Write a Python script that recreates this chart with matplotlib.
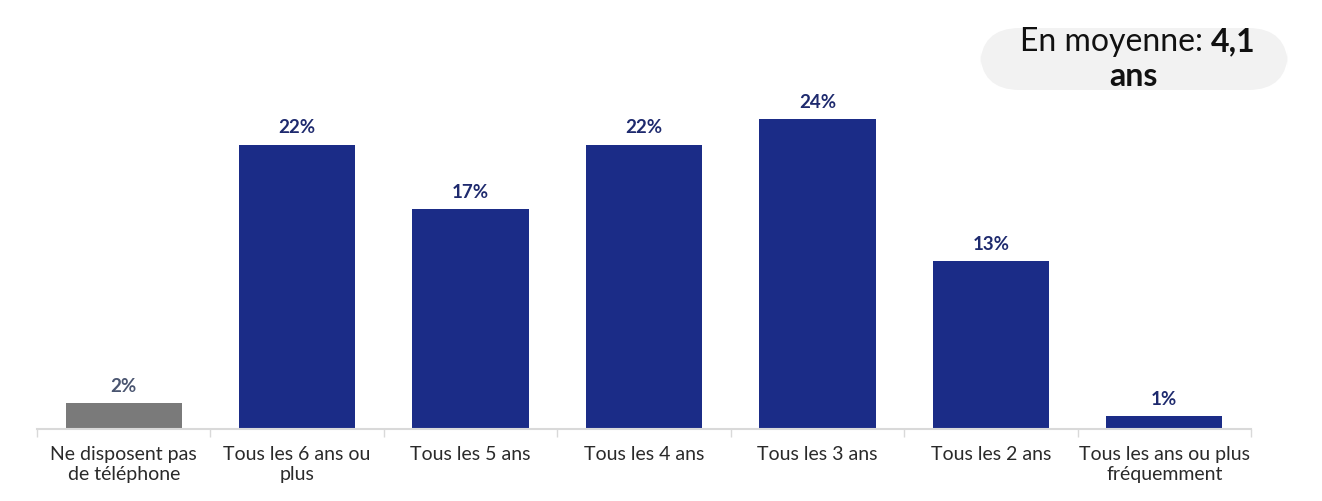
import matplotlib.pyplot as plt
from matplotlib.patches import FancyBboxPatch

categories = ["Ne disposent pas\nde téléphone", "Tous les 6 ans ou\nplus", "Tous les 5 ans",
              "Tous les 4 ans", "Tous les 3 ans", "Tous les 2 ans",
              "Tous les ans ou plus\nfréquemment"]
values = [2, 22, 17, 22, 24, 13, 1]
labels = ["2%", "22%", "17%", "22%", "24%", "13%", "1%"]

navy = "#1b2c87"
grey = "#7a7a7a"
bar_colors = [grey] + [navy] * 6
label_colors = ["#4a5570"] + ["#1e2a6e"] * 6

plt.rcParams['font.family'] = ['Lato', 'DejaVu Sans']

fig = plt.figure(figsize=(13.22, 5.01), dpi=100)
ax = fig.add_axes([0.028, 0.1437, 0.9183, 0.6567])

x = range(len(categories))
ax.bar(x, values, width=0.67, color=bar_colors)
for i, v in enumerate(values):
    ax.annotate(labels[i], (i, v), xytext=(0, 6), textcoords="offset points",
                ha="center", va="bottom", fontsize=13.5, fontweight="bold",
                color=label_colors[i])

ax.set_xlim(-0.5, 6.5)
ax.set_ylim(0, 25.46)
ax.set_yticks([])
for s in ["top", "right", "left"]:
    ax.spines[s].set_visible(False)
ax.spines["bottom"].set_color("#d9d9d9")
ax.spines["bottom"].set_linewidth(1.5)

ax.set_xticks([i - 0.5 for i in range(8)], minor=False)
ax.set_xticklabels([])
ax.tick_params(axis="x", which="major", length=6, color="#d9d9d9", width=1)
ax.set_xticks(list(x), minor=True)
ax.set_xticklabels(categories, minor=True, fontsize=14, color="#2a2a2a", linespacing=1.25)
ax.tick_params(axis="x", which="minor", length=0, pad=12)

# average box
box = FancyBboxPatch((980 / 1322, 1 - 90 / 501), 308 / 1322, 62 / 501,
                     boxstyle="round,pad=0,rounding_size=0.03",
                     transform=fig.transFigure, facecolor="#f2f2f2",
                     edgecolor="none", mutation_aspect=1322 / 501)
fig.patches.append(box)
fig.text(1211 / 1322, 1 - 42 / 501, "En moyenne: ", ha="right", va="center",
         fontsize=23, color="#111111")
fig.text(1211 / 1322, 1 - 42 / 501, "4,1", ha="left", va="center",
         fontsize=23, fontweight="bold", color="#111111")
fig.text(1133 / 1322, 1 - 76 / 501, "ans", ha="center", va="center",
         fontsize=23, fontweight="bold", color="#111111")

fig.savefig("out.png", dpi=100)
